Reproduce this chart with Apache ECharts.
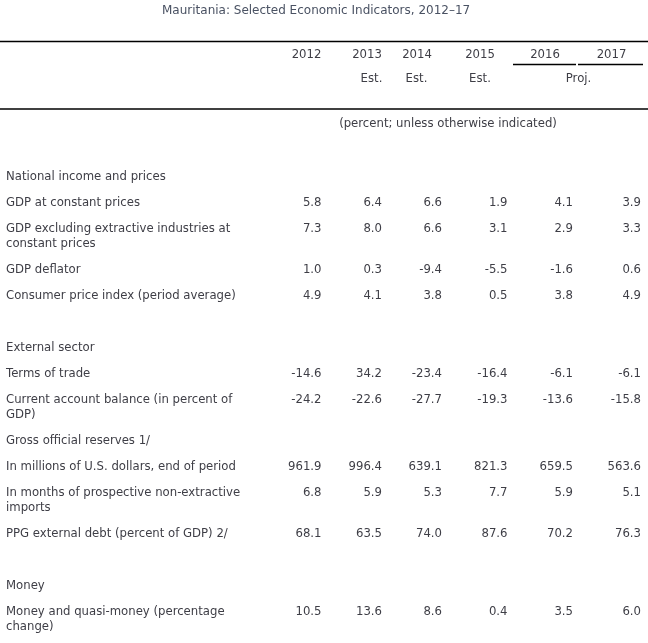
<!DOCTYPE html>
<html>
<head>
<meta charset="utf-8">
<script src="https://cdn.jsdelivr.net/npm/echarts@6/dist/echarts.min.js"></script>
<style>html,body{margin:0;padding:0;background:#fff}#c{width:648px;height:643px}</style>
</head>
<body>
<div id="c"></div>
<script>
// ---- data ----
const titleText = 'Mauritania: Selected Economic Indicators, 2012\u201317';
const years = ['2012', '2013', '2014', '2015', '2016', '2017'];
const yearNotes = ['', 'Est.', 'Est.', 'Est.'];
const projNote = 'Proj.';
const unitNote = '(percent; unless otherwise indicated)';
const rowLabels = [
  'National income and prices',
  'GDP at constant prices',
  'GDP excluding extractive industries at\nconstant prices',
  'GDP deflator',
  'Consumer price index (period average)',
  '',
  'External sector',
  'Terms of trade',
  'Current account balance (in percent of\nGDP)',
  'Gross official reserves 1/',
  'In millions of U.S. dollars, end of period',
  'In months of prospective non-extractive\nimports',
  'PPG external debt (percent of GDP) 2/',
  '',
  'Money',
  'Money and quasi-money (percentage\nchange)'
];
const v2012 = [null, 5.8, 7.3, 1.0, 4.9, null, null, -14.6, -24.2, null, 961.9, 6.8, 68.1, null, null, 10.5];
const v2013 = [null, 6.4, 8.0, 0.3, 4.1, null, null, 34.2, -22.6, null, 996.4, 5.9, 63.5, null, null, 13.6];
const v2014 = [null, 6.6, 6.6, -9.4, 3.8, null, null, -23.4, -27.7, null, 639.1, 5.3, 74.0, null, null, 8.6];
const v2015 = [null, 1.9, 3.1, -5.5, 0.5, null, null, -16.4, -19.3, null, 821.3, 7.7, 87.6, null, null, 0.4];
const v2016 = [null, 4.1, 2.9, -1.6, 3.8, null, null, -6.1, -13.6, null, 659.5, 5.9, 70.2, null, null, 3.5];
const v2017 = [null, 3.9, 3.3, 0.6, 4.9, null, null, -6.1, -15.8, null, 563.6, 5.1, 76.3, null, null, 6.0];
const yearValues = [v2012, v2013, v2014, v2015, v2016, v2017];

// ---- layout (styles / positions, not data) ----
const W = 648, H = 643;
const FONT = '11.7px "DejaVu Sans"';
const TXT = '#3e3e46';
const RULE = '#000';
const labelX = 6;
const colRight = [321.5, 382, 442, 507.5, 573, 641];       // right edges of number columns
const yearCenter = [306.5, 367, 417, 480, 545, 611.5];
const noteCenter = [0, 371.5, 416.5, 480];
const firstRowY = 177, rowStep = 26, wrapStep = 15;
const rowY = [];
(function () {
  let y = firstRowY;
  rowLabels.forEach(function (l) {
    rowY.push(y);
    y += rowStep + wrapStep * (l.split('\n').length - 1);
  });
})();

function textEl(api, x, y, str, align) {
  const p = api.coord([x, y]);
  return {
    type: 'text',
    style: {
      text: str, x: p[0], y: p[1] - 7.5,
      align: align, textAlign: align,
      verticalAlign: 'top', textVerticalAlign: 'top',
      lineHeight: 15, font: FONT, fill: TXT
    },
    silent: true
  };
}

const series = [];
// row labels
series.push({
  type: 'custom', name: 'labels', coordinateSystem: 'cartesian2d',
  data: rowLabels.map(function (l, i) { return [labelX, i]; }),
  renderItem: function (params, api) {
    const i = api.value(1);
    return textEl(api, labelX, rowY[i], rowLabels[i], 'left');
  }
});
// value columns, one series per year
years.forEach(function (yr, c) {
  series.push({
    type: 'custom', name: yr, coordinateSystem: 'cartesian2d',
    data: yearValues[c].map(function (v, i) { return [c, i, v]; }).filter(function (d) { return d[2] !== null; }),
    renderItem: function (params, api) {
      const i = api.value(1), v = api.value(2);
      return textEl(api, colRight[c], rowY[i], Number(v).toFixed(1), 'right');
    }
  });
});
// header
series.push({
  type: 'custom', name: 'header', coordinateSystem: 'cartesian2d',
  data: years.map(function (y, c) { return [c, 0]; }),
  renderItem: function (params, api) {
    const c = api.value(0);
    const children = [textEl(api, yearCenter[c], 55, years[c], 'center')];
    if (yearNotes[c]) children.push(textEl(api, noteCenter[c], 78.5, yearNotes[c], 'center'));
    return { type: 'group', children: children };
  }
});

const lineStyle = { stroke: RULE, lineWidth: 1.6 };
const option = {
  animation: false,
  backgroundColor: '#fff',
  title: {
    text: titleText, left: 162, top: 5, padding: 0,
    textStyle: { fontFamily: 'DejaVu Sans', fontSize: 12, fontWeight: 'normal', color: '#4a5263' }
  },
  grid: { left: 0, right: 0, top: 0, bottom: 0 },
  xAxis: { type: 'value', min: 0, max: W, show: false },
  yAxis: { type: 'value', min: 0, max: H, inverse: true, show: false },
  graphic: [
    { type: 'line', shape: { x1: 0, y1: 41.5, x2: W, y2: 41.5 }, style: lineStyle, silent: true },
    { type: 'line', shape: { x1: 513, y1: 64.5, x2: 576, y2: 64.5 }, style: { stroke: RULE, lineWidth: 1.3 }, silent: true },
    { type: 'line', shape: { x1: 578, y1: 64.5, x2: 643, y2: 64.5 }, style: { stroke: RULE, lineWidth: 1.3 }, silent: true },
    { type: 'text', style: { text: projNote, x: 578.5, y: 79, align: 'center', verticalAlign: 'middle', font: FONT, fill: TXT }, silent: true },
    { type: 'line', shape: { x1: 0, y1: 109, x2: W, y2: 109 }, style: lineStyle, silent: true },
    { type: 'text', style: { text: unitNote, x: 448, y: 123.5, align: 'center', verticalAlign: 'middle', font: FONT, fill: TXT }, silent: true }
  ],
  series: series
};
const chart = echarts.init(document.getElementById('c'), null, { renderer: 'canvas' });
chart.setOption(option);
</script>
</body>
</html>
